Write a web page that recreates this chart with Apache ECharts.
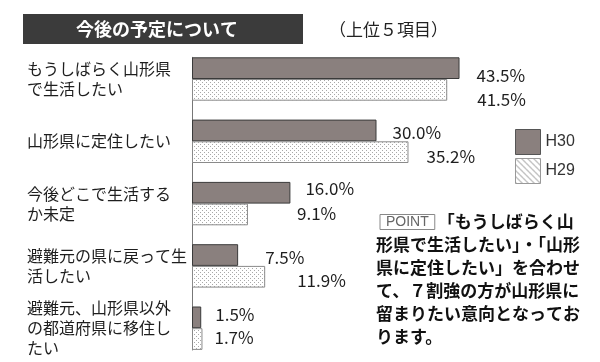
<!DOCTYPE html>
<html><head><meta charset="utf-8">
<script src="https://cdn.jsdelivr.net/npm/echarts/dist/echarts.min.js"></script>
<style>html,body{margin:0;padding:0;background:#fff}#c{width:600px;height:362px}</style>
</head><body><div id="c"></div>
<script>
// ---- data ----
const categories = [
  'もうしばらく山形県\nで生活したい',
  '山形県に定住したい',
  '今後どこで生活する\nか未定',
  '避難元の県に戻って生\n活したい',
  '避難元、山形県以外\nの都道府県に移住し\nたい'
];
const seriesNames = ['H30', 'H29'];
const valuesH30 = [43.5, 30.0, 16.0, 7.5, 1.5];
const valuesH29 = [41.5, 35.2, 9.1, 11.9, 1.7];

// ---- layout nudges (label placement only, as in the reference) ----
const catLabelShift = [4, -9, 3, 7, 8];
const gapH30 = [17, 16, 15, 27, 14];
const gapH29 = [30, 18, 49, 32, 12];
const liftH30 = [7, 2, -4, 2, -3];
const liftH29 = [10, 4, -1, 4, -2];

const JP = '"Noto Sans CJK JP", "Noto Sans", sans-serif';

function makePattern(kind) {
  const c = document.createElement('canvas');
  const n = kind === 'dots' ? 4 : 6;
  c.width = n; c.height = n;
  const g = c.getContext('2d');
  g.fillStyle = '#ffffff'; g.fillRect(0, 0, n, n);
  if (kind === 'dots') {
    g.fillStyle = '#a8a8a8';
    g.fillRect(0, 0, 1, 1); g.fillRect(2, 2, 1, 1);
  } else {
    g.fillStyle = '#8a8a8a';
    for (let i = 0; i < n; i++) g.fillRect(i, i, 1, 1);
  }
  return { image: c, repeat: 'repeat' };
}
const dots = makePattern('dots');
const hatch = makePattern('hatch');

const labelBase = {
  show: true, position: 'right', color: '#1e1e1e', fontSize: 17, fontFamily: JP,
  formatter: p => Number(p.value).toFixed(1) + '%'
};
const catLabelStyle = {
  align: 'left', verticalAlign: 'middle', fontSize: 16, lineHeight: 20, color: '#1e1e1e', fontFamily: JP
};

const chart = echarts.init(document.getElementById('c'), null, { renderer: 'canvas' });
chart.setOption({
  backgroundColor: '#ffffff',
  animation: false,
  grid: [
    { left: 192, top: 47.85, width: 307.5, height: 311.5, containLabel: false, outerBoundsMode: 'none' },
    { left: 192, top: 57.3, width: 307.5, height: 292.7, containLabel: false, outerBoundsMode: 'none' }
  ],
  xAxis: [
    { gridIndex: 0, type: 'value', min: 0, max: 50, show: false },
    { gridIndex: 1, type: 'value', min: 0, max: 50, show: false }
  ],
  yAxis: [
    {
      gridIndex: 0, type: 'category', inverse: true,
      data: categories.map((c, i) => {
        const s = catLabelShift[i];
        return { value: c, textStyle: Object.assign({}, catLabelStyle, { padding: s >= 0 ? [2 * s, 0, 0, 0] : [0, 0, -2 * s, 0] }) };
      }),
      axisLine: { show: false }, axisTick: { show: false }, splitLine: { show: false },
      axisLabel: Object.assign({ interval: 0, margin: 165 }, catLabelStyle)
    },
    {
      gridIndex: 1, type: 'category', data: [''],
      axisLine: { show: true, lineStyle: { color: '#777', width: 1 } },
      axisTick: { show: false }, axisLabel: { show: false }, splitLine: { show: false }
    }
  ],
  legend: {
    orient: 'vertical', left: 510, top: 124, itemWidth: 25, itemHeight: 25, itemGap: 3,
    icon: 'rect',
    textStyle: { fontSize: 16, color: '#333', fontFamily: '"Liberation Sans", Arial, sans-serif' },
    data: [
      { name: seriesNames[0], itemStyle: { color: '#8a807e', borderColor: '#555', borderWidth: 1 } },
      { name: seriesNames[1], itemStyle: { color: hatch, borderColor: '#999', borderWidth: 1 } }
    ]
  },
  series: [
    {
      name: seriesNames[0], type: 'bar', xAxisIndex: 0, yAxisIndex: 0,
      barWidth: 21.7, barGap: '0%',
      itemStyle: { color: '#8a807e', borderColor: '#3a3a3a', borderWidth: 1 },
      label: labelBase,
      data: valuesH30.map((v, i) => ({ value: v, label: { distance: gapH30[i], offset: [0, liftH30[i]] } }))
    },
    {
      name: seriesNames[1], type: 'bar', xAxisIndex: 0, yAxisIndex: 0,
      barWidth: 21.7, barGap: '0%',
      itemStyle: { color: dots, borderColor: '#8a8a8a', borderWidth: 1 },
      label: labelBase,
      data: valuesH29.map((v, i) => ({ value: v, label: { distance: gapH29[i], offset: [0, liftH29[i]] } }))
    }
  ],
  graphic: [
    { type: 'rect', left: 23, top: 14, shape: { width: 280, height: 30 }, style: { fill: '#3b3b3b' } },
    { type: 'text', x: 157, y: 29.5, style: { text: '今後の予定について', fill: '#fff', fontSize: 18, fontWeight: 'bold', fontFamily: JP, align: 'center', verticalAlign: 'middle' } },
    { type: 'text', x: 329, y: 29.5, style: { text: '（上位５項目）', fill: '#222', fontSize: 17, fontFamily: JP, align: 'left', verticalAlign: 'middle' } },
    {
      type: 'text', x: 376, y: 210.5,
      style: {
        text: '{sp| }{p|POINT}{g| }{b|「もうしばらく山}\n{b|形県で生活したい」・「山形}\n{b|県に定住したい」を合わせ}\n{b|て、７割強の方が山形県に}\n{b|留まりたい意向となってお}\n{b|ります。}',
        align: 'left', verticalAlign: 'top',
        rich: {
          sp: { width: 4, lineHeight: 23, fontSize: 14 },
          g: { width: 3, lineHeight: 23, fontSize: 14 },
          p: { fontSize: 14, fontFamily: '"Liberation Sans", Arial, sans-serif', fill: '#666', borderColor: '#888', borderWidth: 1, padding: [1, 6, 0, 6], lineHeight: 14 },
          b: { fontSize: 17, fontWeight: 'bold', fontFamily: JP, fill: '#111', lineHeight: 23 }
        }
      }
    }
  ]
});
</script>
</body></html>
